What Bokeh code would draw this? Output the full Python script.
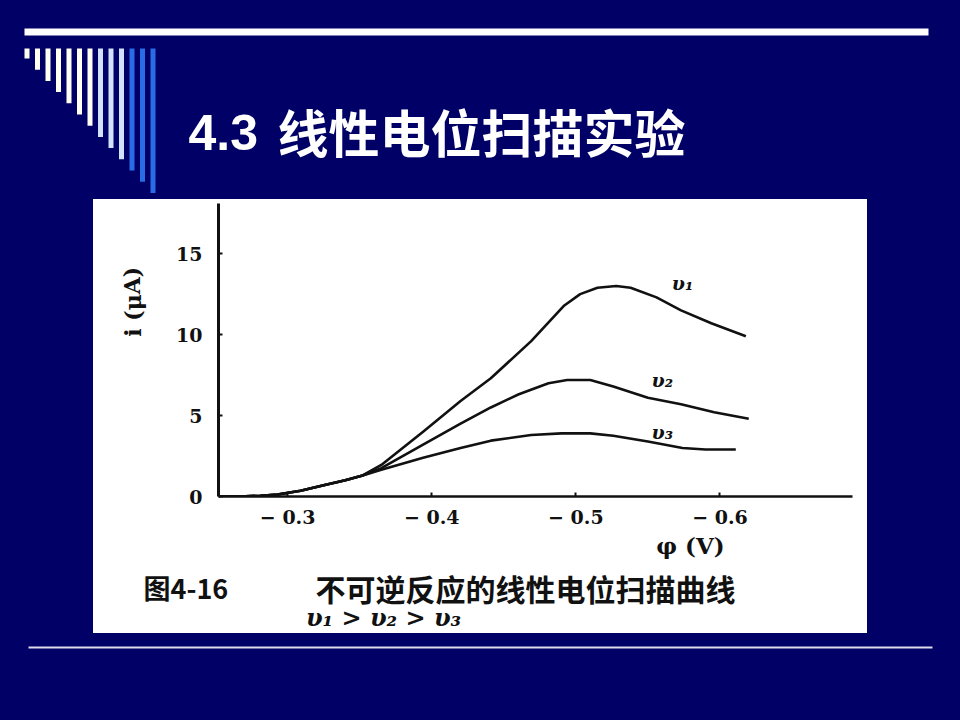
from bokeh.plotting import figure
from bokeh.models import Range1d, FixedTicker, GlobalInlineStyleSheet
from bokeh.layouts import column, row
from bokeh.core.properties import value
from bokeh.embed import file_html
from bokeh.resources import INLINE

# ---------------- data ----------------
phi_common = [-0.252, -0.267, -0.281, -0.293, -0.309, -0.325, -0.340, -0.352]
i_common = [0.0, 0.0, 0.05, 0.12, 0.35, 0.70, 1.00, 1.30]

phi_v1 = [-0.365, -0.394, -0.420, -0.441, -0.469, -0.492, -0.503, -0.515, -0.528,
          -0.538, -0.556, -0.573, -0.594, -0.618]
i_v1 = [1.95, 4.0, 5.9, 7.3, 9.6, 11.8, 12.5, 12.9, 13.0, 12.9, 12.3, 11.5, 10.7, 9.9]

phi_v2 = [-0.365, -0.394, -0.420, -0.441, -0.460, -0.481, -0.494, -0.510,
          -0.526, -0.550, -0.573, -0.596, -0.620]
i_v2 = [1.75, 3.2, 4.5, 5.5, 6.3, 7.0, 7.2, 7.2, 6.8, 6.1, 5.7, 5.2, 4.8]

phi_v3 = [-0.365, -0.394, -0.420, -0.441, -0.469, -0.490, -0.510, -0.526,
          -0.550, -0.574, -0.590, -0.611]
i_v3 = [1.65, 2.4, 3.0, 3.45, 3.8, 3.9, 3.9, 3.75, 3.4, 3.0, 2.9, 2.9]

series_names = ["υ₁", "υ₂", "υ₃"]
x_ticks = [-0.3, -0.4, -0.5, -0.6]
x_tick_labels = ["− 0.3", "− 0.4", "− 0.5", "− 0.6"]
y_ticks = [0, 5, 10, 15]
y_tick_labels = ["0", "5", "10", "15"]

title_num = "4.3"
title_cjk = "线性电位扫描实验"
y_label = "i (μA)"
x_label = "φ (V)"
caption_fig = "图4-16"
caption_text = "不可逆反应的线性电位扫描曲线"
caption_rel = "υ₁ > υ₂ > υ₃"

NAVY = "#000066"
INK = "#111111"
SERIF = value("DejaVu Serif")
CJK = value("Noto Sans CJK SC")


def panel(w, h, x0, x1, ytop, ybot, fill):
    f = figure(width=w, height=h, x_range=Range1d(x0, x1), y_range=Range1d(ybot, ytop),
               x_axis_type=None, y_axis_type=None, output_backend="svg",
               toolbar_location=None, min_border=0)
    f.grid.visible = False
    f.outline_line_color = None
    f.background_fill_color = fill
    f.border_fill_color = fill
    f.styles = {"background-color": fill}
    return f


# ---------------- top banner ----------------
top = panel(960, 199, 0, 960, 0, 199, NAVY)
top.quad(left=[24], right=[928], top=[28], bottom=[35], color="white", line_color=None)
stripe_colors = ["#FFFFF2"] * 7 + ["#D2E2FA"] * 3 + ["#2A6CE6"] * 3
s_left = [24 + k * 10.5 for k in range(13)]
s_bottom = [58 + k * 11.2 for k in range(13)]
top.quad(left=s_left, right=[v + 5 for v in s_left], top=[48] * 13, bottom=s_bottom,
         color=stripe_colors, line_color=None)
top.text(x=[188], y=[132], text=[title_num], text_font=value("Liberation Sans"),
         text_font_style="bold", text_font_size="50px", text_color="white",
         text_baseline="alphabetic", text_align="left")
top.text(x=[277], y=[130], text=[title_cjk], text_font=CJK,
         text_font_style="bold", text_font_size="51px", text_color="white",
         text_baseline="alphabetic", text_align="left")

# ---------------- side fillers ----------------
left = panel(93, 434, 0, 1, 0, 1, NAVY)
right = panel(93, 434, 0, 1, 0, 1, NAVY)

# ---------------- y-label strip ----------------
ylab = panel(57, 331, 93, 150, 199, 530, "white")
ylab.text(x=[132], y=[310], text=[y_label], angle=1.5708, text_font=SERIF,
          text_font_style="bold", text_font_size="22px", text_color=INK,
          text_align="center", text_baseline="middle")

# ---------------- chart ----------------
p = figure(width=717, height=331, x_range=Range1d(-0.252, -0.692), y_range=Range1d(0, 18.1),
           output_backend="svg", toolbar_location=None,
           min_border_left=68, min_border_right=15, min_border_top=4, min_border_bottom=30)
p.grid.visible = False
p.outline_line_color = None
p.background_fill_color = None
p.border_fill_color = "white"
p.styles = {"background-color": "white"}

for ax in (p.xaxis[0], p.yaxis[0]):
    ax.axis_line_color = INK
    ax.major_tick_line_color = INK
    ax.major_tick_line_width = 2
    ax.major_tick_in = 4
    ax.major_tick_out = 0
    ax.minor_tick_line_color = None
    ax.major_label_text_font = "DejaVu Serif"
    ax.major_label_text_font_style = "bold"
    ax.major_label_text_color = INK
    ax.major_label_text_font_size = "19px"

p.xaxis[0].axis_line_width = 2.5
p.yaxis[0].axis_line_width = 3
p.xaxis[0].ticker = FixedTicker(ticks=x_ticks)
p.xaxis[0].major_label_overrides = dict(zip(x_ticks, x_tick_labels))
p.xaxis[0].major_label_standoff = 9
p.yaxis[0].ticker = FixedTicker(ticks=y_ticks)
p.yaxis[0].major_label_overrides = dict(zip(y_ticks, y_tick_labels))
p.yaxis[0].major_label_standoff = 16

for ph, cur in ((phi_v1, i_v1), (phi_v2, i_v2), (phi_v3, i_v3)):
    p.line(phi_common + ph, i_common + cur, line_color=INK, line_width=2.6,
           line_join="round")

p.text(x=[-0.574, -0.560, -0.560], y=[13.2, 7.2, 4.0], text=series_names,
       text_font=SERIF, text_font_style="bold italic", text_font_size="19px",
       text_color=INK, text_align="center", text_baseline="middle")

# ---------------- caption strip ----------------
cap = panel(774, 103, 93, 867, 530, 633, "white")
cap.text(x=[690], y=[545], text=[x_label], text_font=SERIF, text_font_style="bold",
         text_font_size="23px", text_color=INK, text_align="center", text_baseline="middle")
cap.text(x=[143], y=[587], text=[caption_fig], text_font=CJK, text_font_style="bold",
         text_font_size="27px", text_color=INK, text_align="left", text_baseline="middle")
cap.text(x=[525], y=[587], text=[caption_text], text_font=CJK, text_font_style="bold",
         text_font_size="30px", text_color=INK, text_align="center", text_baseline="middle")
cap.text(x=[383], y=[617], text=[caption_rel], text_font=SERIF, text_font_style="bold italic",
         text_font_size="24px", text_color=INK, text_align="center", text_baseline="middle")

# ---------------- bottom strip ----------------
bottom = panel(960, 87, 0, 960, 633, 720, NAVY)
bottom.quad(left=[28], right=[932], top=[646], bottom=[648], color="#DCDCEC", line_color=None)

white = {"background-color": "white"}
chart_row = row(ylab, p, styles=white)
box = column(chart_row, cap, styles=white)
layout = column(top,
                row(left, box, right, styles={"background-color": NAVY}),
                bottom,
                styles={"background-color": NAVY},
                stylesheets=[GlobalInlineStyleSheet(css="html, body { background-color: #000066; }")])

open("out.html", "w").write(file_html(layout, INLINE))
